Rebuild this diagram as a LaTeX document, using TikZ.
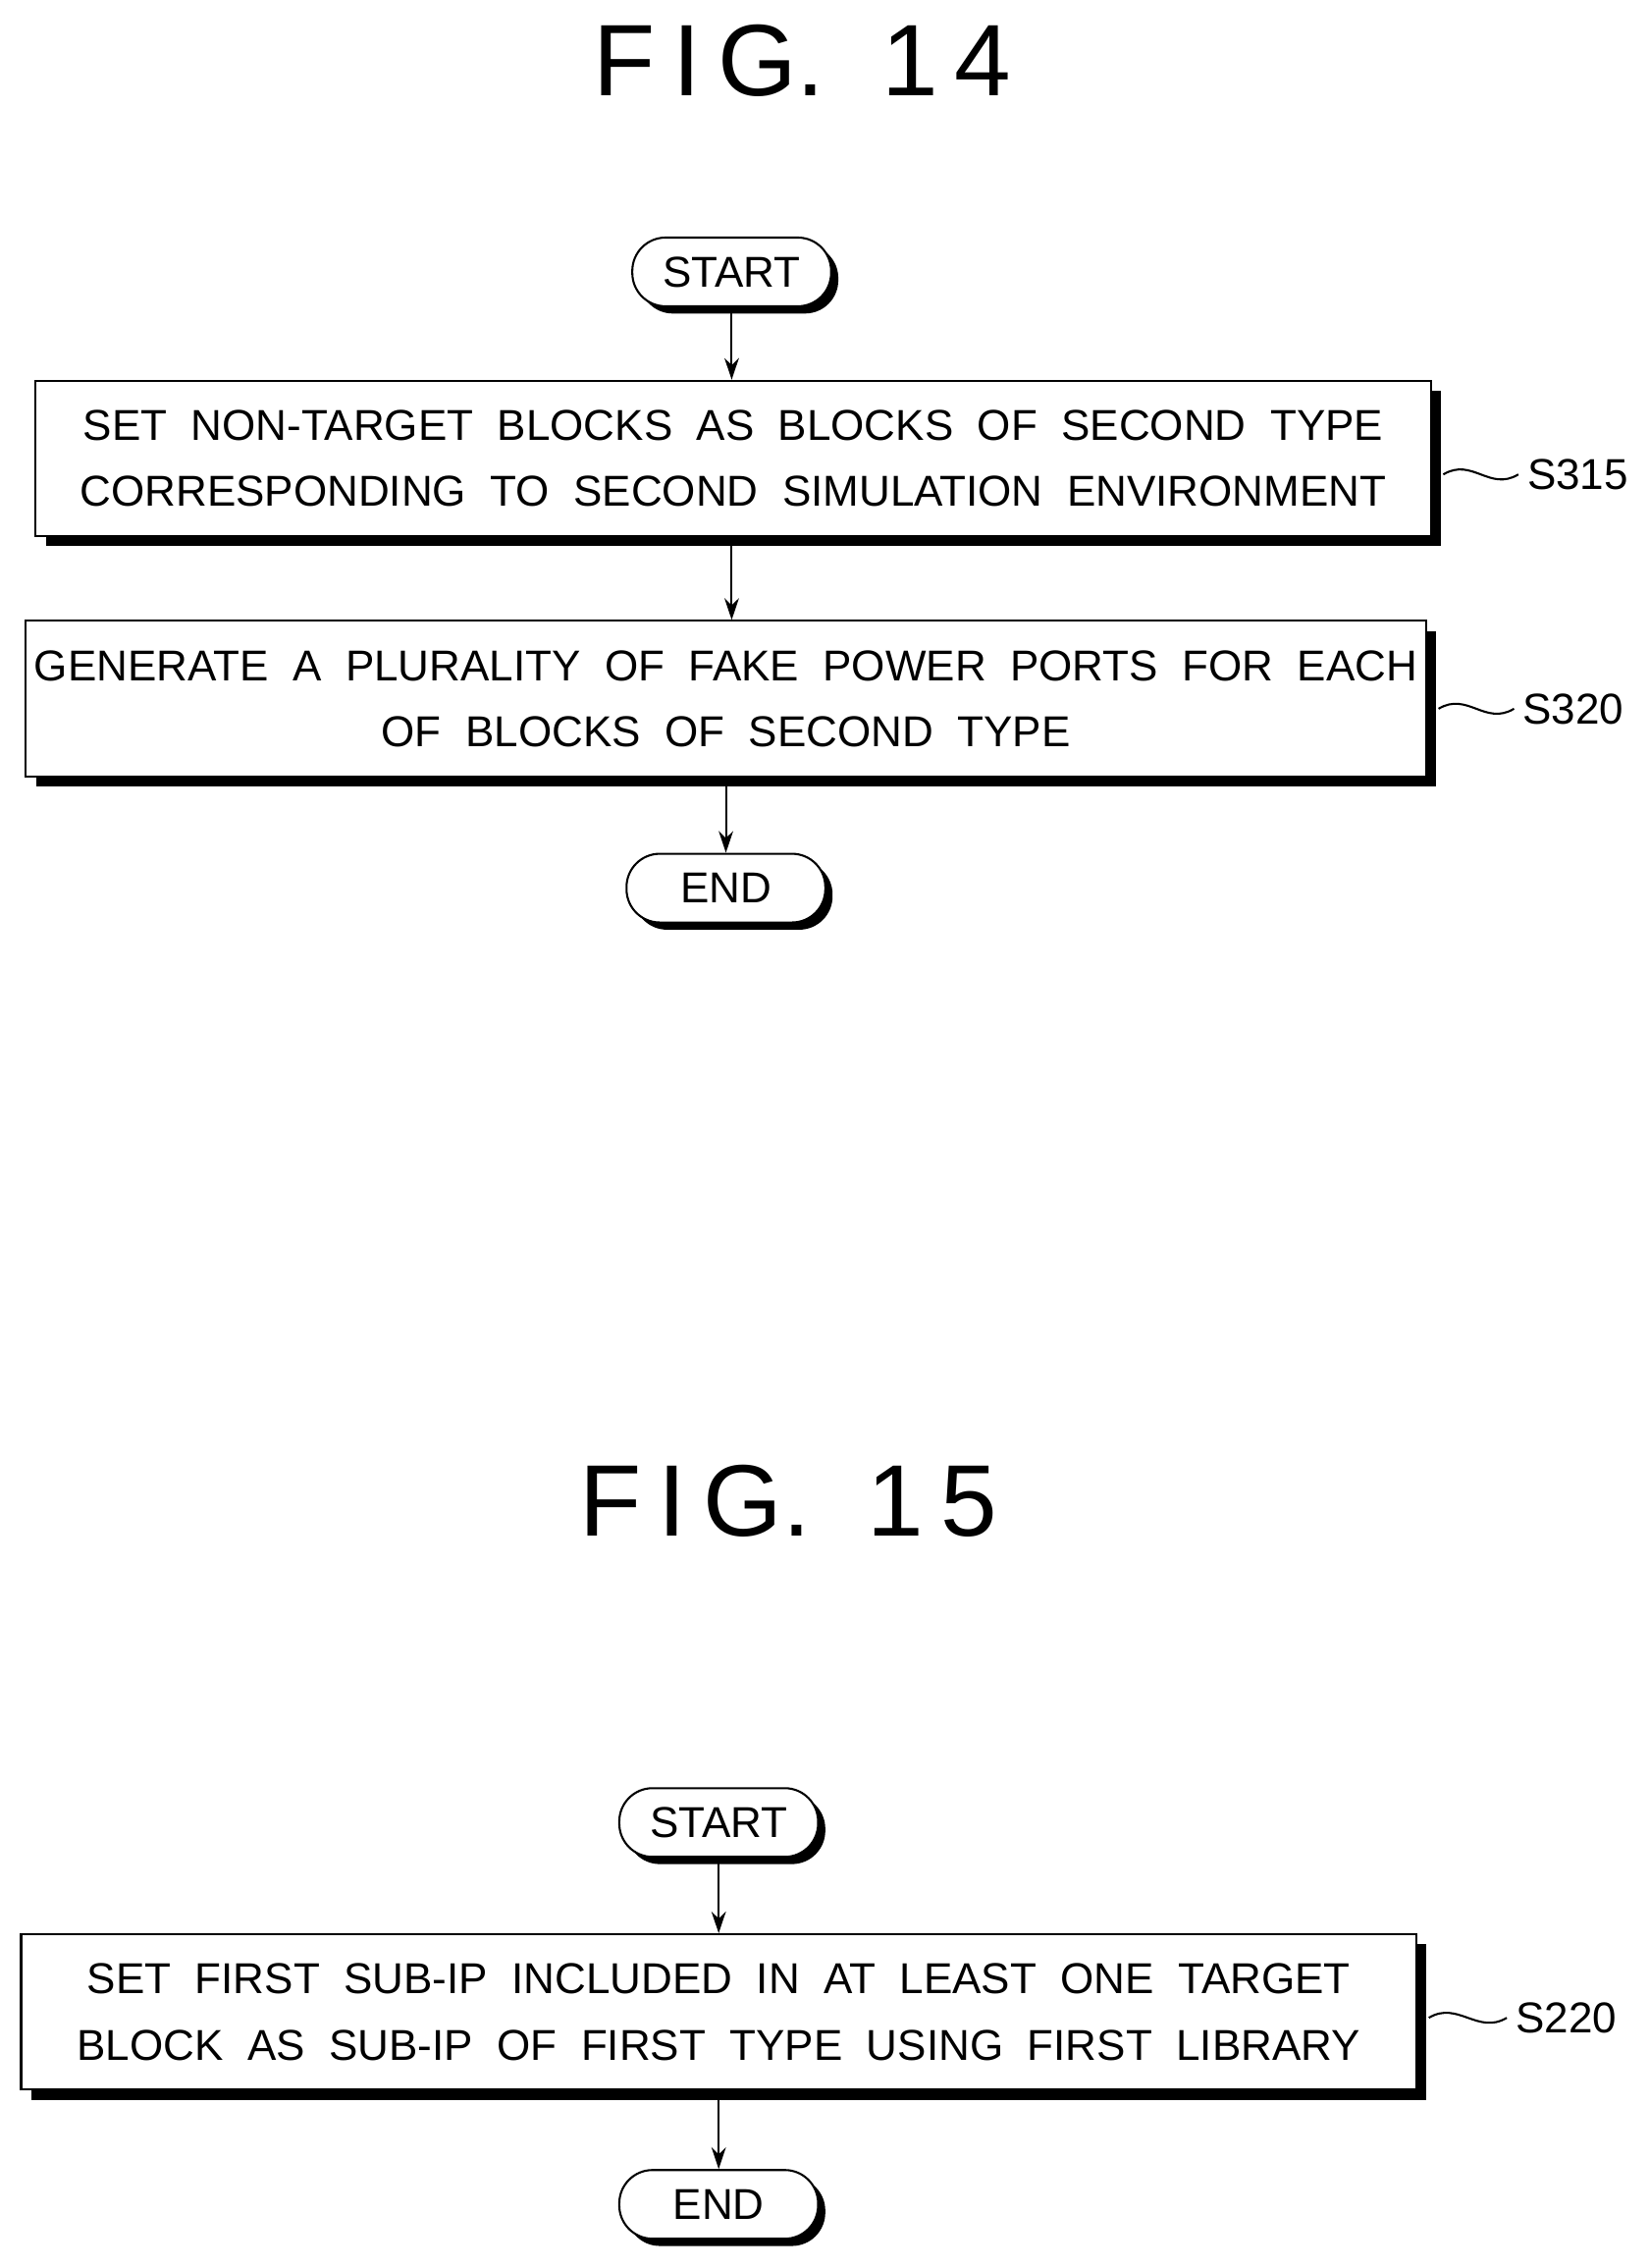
\documentclass[tikz,border=0pt]{standalone}
\usepackage{fontspec}
\setmainfont{Liberation Sans}
\usetikzlibrary{positioning, shadows, arrows.meta}
\tikzset{
	box/.style={draw, thick, fill=white, minimum width=19.3cm, minimum height=2.15cm, align=center, font=\fontsize{17}{26}\selectfont,
		drop shadow={shadow xshift=0.14cm, shadow yshift=-0.14cm, fill=black, opacity=1}},
	term/.style={draw, thick, fill=white, rounded corners=0.46cm, minimum width=2.75cm, minimum height=0.95cm, font=\fontsize{17}{20}\selectfont,
		drop shadow={shadow xshift=0.1cm, shadow yshift=-0.1cm, fill=black, opacity=1}},
	flow/.style={thick, -{Stealth[length=0.3cm, width=0.2cm]}},
	steplabel/.style={font=\fontsize{17}{20}\selectfont, anchor=west},
	title/.style={font=\fontsize{40}{44}\selectfont},
}
\begin{document}
\begin{tikzpicture}[x=0.02cm, y=-0.02cm]
	\useasboundingbox (0,0) rectangle (1140,1568);
	% FIG. 14
	\node[title] (fig14) at (555,42) {F\,I\,G. \ 1\,4};
	\node[term] (start14) at (506,188) {START};
	\node[box] (s315) at (507,317) {SET \ NON-TARGET \ BLOCKS \ AS \ BLOCKS \ OF \ SECOND \ TYPE\\CORRESPONDING \ TO \ SECOND \ SIMULATION \ ENVIRONMENT};
	\node[box] (s320) at (502,483) {GENERATE \ A \ PLURALITY \ OF \ FAKE \ POWER \ PORTS \ FOR \ EACH\\OF \ BLOCKS \ OF \ SECOND \ TYPE};
	\node[term] (end14) at (502,614) {END};
	\draw[flow] (start14) -- (start14 |- s315.north);
	\draw[flow] (s315.south -| start14) -- (s320.north -| start14);
	\draw[flow] (s320.south -| end14) -- (end14);
	\node[steplabel] (l315) at (1050,328) {S315};
	\node[steplabel] (l320) at (1047,490) {S320};
	\draw[thick] (s315.east |- l315) ++(8,0) .. controls +(20,-12) and +(-20,12) .. (l315.west);
	\draw[thick] (s320.east |- l320) ++(8,0) .. controls +(20,-12) and +(-20,12) .. (l320.west);
	% FIG. 15
	\node[title] (fig15) at (545,1038) {F\,I\,G. \ 1\,5};
	\node[term] (start15) at (497,1260) {START};
	\node[box] (s220) at (497,1391) {SET \ FIRST \ SUB-IP \ INCLUDED \ IN \ AT \ LEAST \ ONE \ TARGET\\BLOCK \ AS \ SUB-IP \ OF \ FIRST \ TYPE \ USING \ FIRST \ LIBRARY};
	\node[term] (end15) at (497,1524) {END};
	\draw[flow] (start15) -- (start15 |- s220.north);
	\draw[flow] (s220.south -| end15) -- (end15);
	\node[steplabel] (l220) at (1042,1395) {S220};
	\draw[thick] (s220.east |- l220) ++(8,0) .. controls +(20,-12) and +(-20,12) .. (l220.west);
\end{tikzpicture}
\end{document}
